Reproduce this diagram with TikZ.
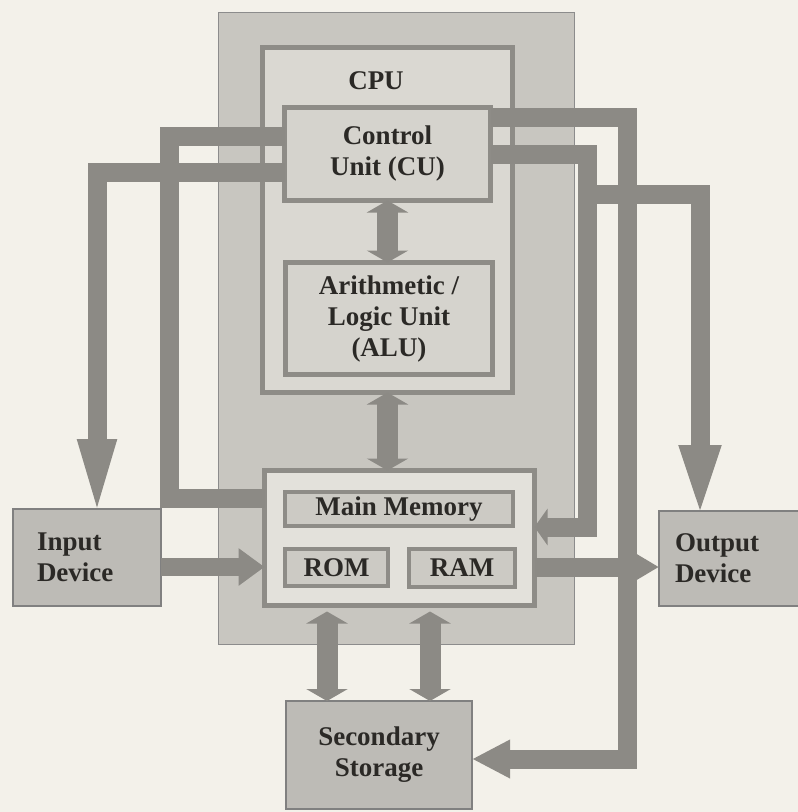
\documentclass[tikz,border=0pt]{standalone}
\usepackage{fontspec}
\setmainfont{Liberation Serif}
\usetikzlibrary{arrows.meta}

\definecolor{paper}{HTML}{F3F1EA}
\definecolor{cpufill}{HTML}{C8C6C0}
\definecolor{innerfill}{HTML}{DAD8D2}
\definecolor{unitfill}{HTML}{D5D3CD}
\definecolor{memfill}{HTML}{E3E1DB}
\definecolor{cellfill}{HTML}{CCCAC4}
\definecolor{devfill}{HTML}{BDBBB6}
\definecolor{edge}{HTML}{8E8C87}
\definecolor{bandgray}{HTML}{8C8A85}
\definecolor{ink}{HTML}{2B2926}

\begin{document}
\begin{tikzpicture}[
  x=1pt, y=-1pt,
  every node/.style={inner sep=0pt, outer sep=0pt, text=ink, font=\fontsize{27}{31}\selectfont\bfseries},
  frame/.style={rectangle, draw=edge, line width=5pt},
  unitbox/.style={frame, fill=unitfill, align=center},
  cell/.style={rectangle, draw=edge, line width=4pt, fill=cellfill},
  device/.style={rectangle, draw=black!50, line width=2pt, fill=devfill},
  band/.style={draw=bandgray, line width=19pt, line join=miter},
  bus/.style={band, line width=21pt, {Triangle[length=12pt, width=41pt]}-{Triangle[length=12pt, width=41pt]}},
]
  % Page
  \clip (0,0) rectangle (798,812);
  \fill[paper] (0,0) rectangle (798,812);

  % CPU
  \node[rectangle, draw=black!45, line width=1.5pt, fill=cpufill, minimum width=356pt, minimum height=632pt] (cpu) at (396.5,328.5) {};
  \node[frame, fill=innerfill, minimum width=250pt, minimum height=345pt] (cpuin) at (387.5,220) {};
  \node (cpulbl) at (376,81) {CPU};
  \node[unitbox, minimum width=206pt, minimum height=93pt] (cu) at (387.5,154) {Control\\Unit (CU)};
  \node[unitbox, minimum width=207pt, minimum height=112pt] (alu) at (389,318.5) {Arithmetic /\\Logic Unit\\(ALU)};

  % Main memory
  \node[frame, fill=memfill, minimum width=270pt, minimum height=135pt] (mem) at (399.5,538) {};
  \node[cell, minimum width=228pt, minimum height=34pt] (mainmem) at (399,509) {Main Memory};
  \node[cell, minimum width=103pt, minimum height=37pt] (rom) at (336.5,567.5) {ROM};
  \node[cell, minimum width=106pt, minimum height=38pt] (ram) at (462,568) {RAM};

  % Devices
  \node[device, minimum width=148pt, minimum height=97pt, text width=100pt, inner xsep=24pt, align=left] (input) at (87,557.5) {Input\\Device};
  \node[device, minimum width=140pt, minimum height=95pt, text width=108pt, inner xsep=16pt, align=left] (output) at (729,558.5) {Output\\Device};
  \node[device, minimum width=186pt, minimum height=108pt, align=center] (sec) at (379,755) {Secondary\\Storage};

  % Buses
  \draw[bus] (cu.south) -- (cu.south |- alu.north);
  \draw[bus] (cpuin.south) -- (cpuin.south |- mem.north);
  \draw[bus, shorten <=6pt] (327,0 |- mem.south) -- (327,0 |- sec.north);
  \draw[bus, shorten <=6pt] (430,0 |- mem.south) -- (430,0 |- sec.north);

  % Control lines from the CU
  \draw[band] (cu.west |- 0,136) -| (169,498) -- (mem.west |- 0,498);
  \draw[band, shorten >=-15pt, -{Triangle[length=85pt, width=33pt]}] (cu.west |- 0,172) -| (97,0 |- input.north);
  \draw[band, -{Triangle[length=13pt, width=36pt]}] (cu.east) -| (587,527) -- (mem.east |- 0,527);
  \coordinate (fork) at (587,194);
  \draw[band, shorten >=-11pt, -{Triangle[length=77pt, width=36pt]}] (fork) -| (700,0 |- output.north);
  \draw[band, -{Triangle[length=38pt, width=36pt]}] (cu.east |- 0,117) -| (627,759) -- (sec.east |- 0,759);

  % Data flow
  \draw[band, line width=18pt, -{Triangle[length=26pt, width=36pt]}] (input.east |- 0,567) -- (mem.west |- 0,567);
  \draw[band, -{Triangle[length=31pt, width=34pt]}] (mem.east |- 0,567) -- (output.west |- 0,567);
\end{tikzpicture}
\end{document}
